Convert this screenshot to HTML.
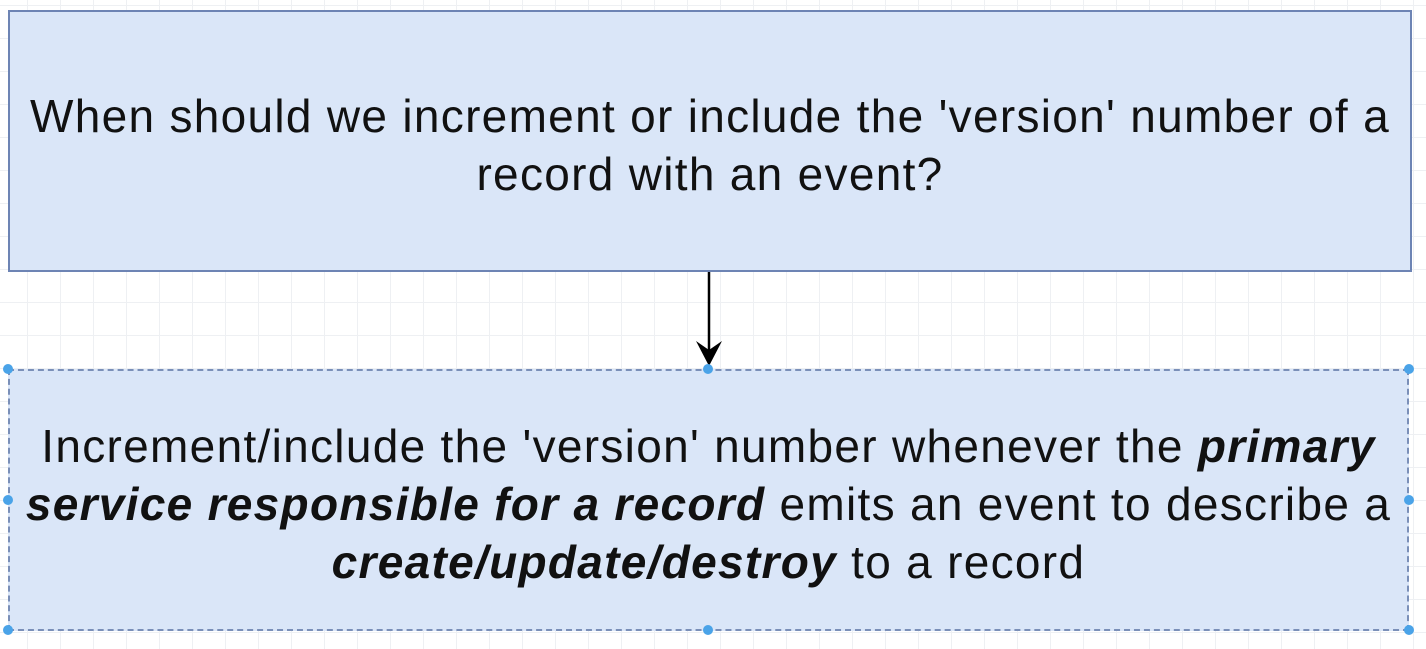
<!DOCTYPE html>
<html><head><style>
html,body{margin:0;padding:0;}
body{width:1426px;height:649px;position:relative;overflow:hidden;background:#fff;
background-image:linear-gradient(#eef0f3 1px,transparent 1px),linear-gradient(90deg,#eef0f3 1px,transparent 1px);
background-size:33px 33px;background-position:-6px 5px;font-family:"Liberation Sans",sans-serif;color:#111;}
.box{position:absolute;background:#dae6f8;display:flex;align-items:center;justify-content:center;text-align:center;font-size:46px;letter-spacing:1.3px;line-height:58px;box-sizing:border-box;white-space:nowrap;}
#a{left:8px;top:10px;width:1404px;height:262px;border:2px solid #6d84b4;}
#b{left:8px;top:369px;width:1401px;height:262px;border:2px dashed #7a8fb8;}
.d{position:absolute;width:10px;height:10px;border-radius:50%;background:#4aa3e8;}
</style></head><body>
<div class="box" id="a"><div style="margin-top:8px">When should we increment or include the 'version' number of a<br>record with an event?</div></div>
<div class="box" id="b"><div style="margin-top:8px">Increment/include the 'version' number whenever the <b><i>primary</i></b><br><b><i>service responsible for a record</i></b> emits an event to describe a<br><b><i>create/update/destroy</i></b> to a record</div></div>
<svg style="position:absolute;left:0;top:0" width="1426" height="649">
<line x1="709" y1="272" x2="709" y2="350" stroke="#000" stroke-width="2.5"/>
<path d="M696 341 L709 366 L722 341 L709 350 Z" fill="#000"/>
</svg>
<div class="d" style="left:703px;top:364px"></div>
<div class="d" style="left:3px;top:364px"></div>
<div class="d" style="left:1404px;top:364px"></div>
<div class="d" style="left:3px;top:495px"></div>
<div class="d" style="left:1404px;top:495px"></div>
<div class="d" style="left:3px;top:625px"></div>
<div class="d" style="left:703px;top:625px"></div>
<div class="d" style="left:1404px;top:625px"></div>
</body></html>
